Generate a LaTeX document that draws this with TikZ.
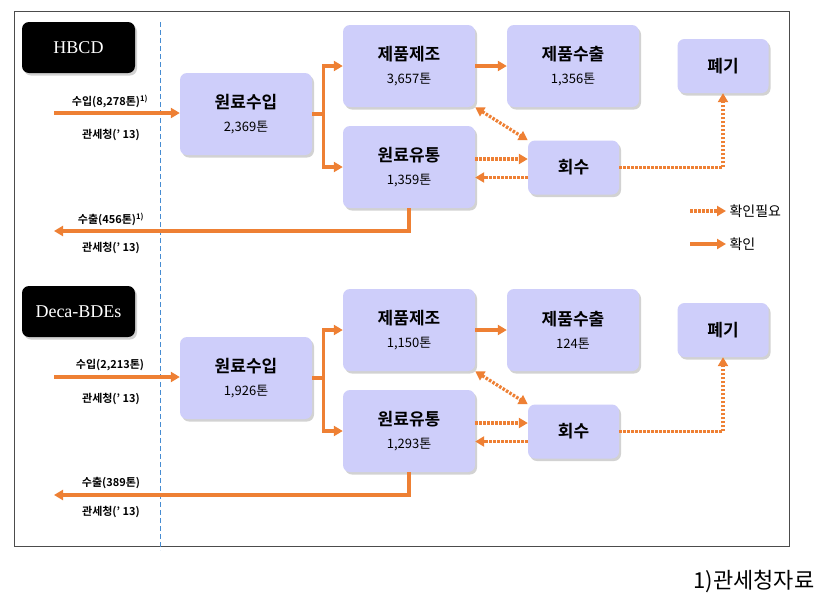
\documentclass[tikz,border=0pt]{standalone}
\usepackage{fontspec}
\setmainfont{Noto Sans CJK KR}[BoldFont={Noto Sans CJK KR Bold}]
\newfontfamily\tagfont{Liberation Serif}
\usetikzlibrary{arrows.meta,shadows}

\definecolor{boxfill}{RGB}{206,206,250}
\definecolor{flowor}{RGB}{238,128,52}
\definecolor{guideblue}{RGB}{70,140,210}

\tikzset{
  proc/.style={rounded corners=7pt, fill=boxfill, minimum width=132pt, minimum height=82pt, align=center,
    font=\fontsize{13}{16}\selectfont, drop shadow={shadow xshift=2pt, shadow yshift=-2.5pt, fill=black!35}},
  small proc/.style={proc, minimum width=91pt, minimum height=54pt},
  tagbox/.style={rounded corners=7pt, fill=black, text=white, minimum width=113pt, minimum height=51pt,
    font=\tagfont\fontsize{18}{20}\selectfont, drop shadow={shadow xshift=2pt, shadow yshift=-2.5pt, fill=black!35}},
  flow/.style={draw=flowor, line width=3.3pt, -{Triangle[length=9pt,width=10pt]}},
  chk/.style={flow, dash pattern=on 2.5pt off 1.5pt},
  lbl/.style={font=\bfseries\fontsize{11}{13}\selectfont},
}

\begin{document}
\begin{tikzpicture}[x=1pt,y=-1pt]

  \fill[white] (0,0) rectangle (839,606);
  \useasboundingbox (0,0) rectangle (839,606);
  \draw[black!70, line width=1pt] (14,11) rectangle (789,546); % frame
  \draw[guideblue, line width=1pt, dash pattern=on 5pt off 3pt] (160,22) -- (160,550); % border line

  \foreach \p/\dy/\tag/\inl/\outl/\nmat/\nmfg/\ndist/\nexp in {
      1/0/HBCD/{수입(8,278톤)\textsuperscript{1)}}/{수출(456톤)\textsuperscript{1)}}/{2,369}/{3,657}/{1,359}/{1,356},
      2/264/Deca-BDEs/{수입(2,213톤)}/{수출(389톤)}/{1,926}/{1,150}/{1,293}/{124}}{
    \begin{scope}[shift={(0,\dy)}]
      \node[tagbox] (tag\p) at (78.5,47.5) {\tag};
      \node[proc] (mat\p) at (246,114) {{\bfseries\fontsize{17}{19}\selectfont 원료수입}\\[7pt]\nmat{}톤};
      \node[proc] (mfg\p) at (409,66) {{\bfseries\fontsize{17}{19}\selectfont 제품제조}\\[7pt]\nmfg{}톤};
      \node[proc] (dist\p) at (409,167) {{\bfseries\fontsize{17}{19}\selectfont 원료유통}\\[7pt]\ndist{}톤};
      \node[proc] (exp\p) at (573,66) {{\bfseries\fontsize{17}{19}\selectfont 제품수출}\\[7pt]\nexp{}톤};
      \node[small proc, font=\bfseries\fontsize{17}{19}\selectfont] (waste\p) at (723,66) {폐기};
      \node[small proc, font=\bfseries\fontsize{17}{19}\selectfont] (rec\p) at (573.5,167.5) {회수};

      \coordinate (inend\p) at (54,113);
      \coordinate (outend\p) at (54,231);
      \node[lbl] (inlbl\p) at (110,101) {\inl};
      \node[lbl] (insrc\p) at (111,135) {관세청(' 13)};
      \node[lbl] (outlbl\p) at (111,219) {\outl};
      \node[lbl] (outsrc\p) at (111,248) {관세청(' 13)};

      \draw[flow] (inend\p) -- (inend\p -| mat\p.west); % import
      \draw[flow] (mat\p.east) -- ++(11,0) |- (mfg\p.west);
      \draw[flow] (mat\p.east) -- ++(11,0) |- (dist\p.west);
      \draw[flow] (mfg\p.east) -- (exp\p.west);
      \draw[flow] (dist\p.south) |- (outend\p); % export
      \draw[chk, {Triangle[length=9pt,width=10pt]}-{Triangle[length=9pt,width=10pt]}] (mfg\p.south east) -- (rec\p.north west);
      \draw[chk] ([yshift=8pt]dist\p.east) -- ([yshift=8pt]dist\p.east -| rec\p.west);
      \draw[chk] ([yshift=-10pt]rec\p.west) -- ([yshift=-10pt]rec\p.west -| dist\p.east);
      \draw[chk] (rec\p.east) -| (waste\p.south);
    \end{scope}
  }

  % legend
  \coordinate (lga) at (690,211);
  \coordinate (lgb) at (690,244);
  \node[font=\fontsize{14}{16}\selectfont, anchor=west] (lgchk) at (726,211) {확인필요};
  \node[font=\fontsize{14}{16}\selectfont, anchor=west] (lgok) at (726,244) {확인};
  \draw[chk] (lga) -- (lgchk.west);
  \draw[flow] (lgb) -- (lgok.west);

  \node[font=\fontsize{22}{24}\selectfont, anchor=east] (note) at (818,582) {1)관세청자료};

\end{tikzpicture}
\end{document}
